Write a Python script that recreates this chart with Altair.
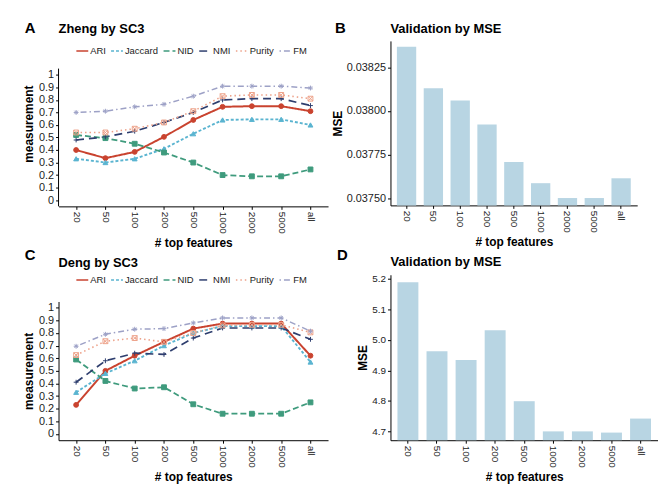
import altair as alt
import pandas as pd

FONT = "Liberation Sans"

features = ["20", "50", "100", "200", "500", "1000", "2000", "5000", "all"]
metrics = ["ARI", "Jaccard", "NID", "NMI", "Purity", "FM"]
colors = ["#C9432F", "#5AB4D0", "#3F9B7D", "#2E3E6E", "#EDA28A", "#9DA1C6"]
dashes = [[1, 0], [3, 2], [6, 3], [8, 5], [1.5, 3], [1.5, 3, 6, 3]]
widths = [2, 1.5, 1.5, 1.6, 1.5, 1.5]
PLUS = "M-1,0L1,0M0,-1L0,1"
BOXX = "M-1,-1L1,-1M1,-1L1,1M1,1L-1,1M-1,1L-1,-1M-1,-1L1,1M-1,1L1,-1"
AST = "M-1,0L1,0M0,-1L0,1M-0.7,-0.7L0.7,0.7M-0.7,0.7L0.7,-0.7"
shapes = ["circle", "triangle-up", "square", PLUS, BOXX, AST]

# Zheng by SC3
zheng_ari = [0.40, 0.335, 0.385, 0.505, 0.64, 0.745, 0.75, 0.75, 0.71]
zheng_jaccard = [0.33, 0.30, 0.33, 0.41, 0.53, 0.64, 0.645, 0.645, 0.60]
zheng_nid = [0.52, 0.495, 0.45, 0.38, 0.30, 0.20, 0.19, 0.19, 0.245]
zheng_nmi = [0.48, 0.505, 0.55, 0.62, 0.70, 0.80, 0.81, 0.81, 0.755]
zheng_purity = [0.54, 0.54, 0.57, 0.62, 0.71, 0.83, 0.84, 0.84, 0.81]
zheng_fm = [0.70, 0.71, 0.745, 0.765, 0.83, 0.91, 0.91, 0.91, 0.895]

# Deng by SC3
deng_ari = [0.23, 0.50, 0.62, 0.73, 0.835, 0.875, 0.875, 0.875, 0.62]
deng_jaccard = [0.33, 0.48, 0.58, 0.70, 0.80, 0.855, 0.855, 0.855, 0.57]
deng_nid = [0.59, 0.42, 0.36, 0.37, 0.235, 0.16, 0.16, 0.16, 0.25]
deng_nmi = [0.41, 0.58, 0.64, 0.63, 0.76, 0.84, 0.84, 0.84, 0.75]
deng_purity = [0.625, 0.735, 0.76, 0.73, 0.80, 0.86, 0.865, 0.865, 0.805]
deng_fm = [0.695, 0.79, 0.83, 0.835, 0.88, 0.92, 0.92, 0.92, 0.815]

# Validation by MSE
mse_zheng = [0.038368, 0.03813, 0.03806, 0.037923, 0.037708, 0.037587, 0.037502, 0.037502, 0.037615]
mse_deng = [5.189, 4.963, 4.934, 5.032, 4.799, 4.700, 4.700, 4.696, 4.742]

measure_ticks = [0, 0.1, 0.2, 0.3, 0.4, 0.5, 0.6, 0.7, 0.8, 0.9, 1]
measure_axis_span = [-0.05, 1.05]
mse_zheng_ticks = [0.0375, 0.03775, 0.038, 0.03825]
mse_deng_ticks = [4.7, 4.8, 4.9, 5.0, 5.1, 5.2]


def long_df(series):
    rows = []
    for m, vals in zip(metrics, series):
        for i, (f, v) in enumerate(zip(features, vals)):
            rows.append({"features": f, "metric": m, "value": v, "idx": i})
    return pd.DataFrame(rows)


def text_layer(text, dx, dy, size, opacity=1):
    return alt.Chart(pd.DataFrame({"t": [text]})).mark_text(
        align="left", baseline="alphabetic", fontSize=size, fontWeight="bold",
        font=FONT, color="black", opacity=opacity
    ).encode(x=alt.value(dx), y=alt.value(dy), text="t:N")


def x_axis():
    return alt.Axis(title="# top features", labelAngle=90, titlePadding=4, labelFontSize=10)


def legend_def(legend_y):
    return alt.Legend(orient="none", legendX=17, legendY=legend_y,
                      direction="horizontal", columns=6, title=None,
                      symbolType="stroke", symbolSize=144,
                      symbolStrokeWidth=1.5, labelFontSize=9.5,
                      labelFont=FONT, labelColor="#222",
                      labelOffset=1, columnPadding=2)


def line_panel(df, letter, title, letter_y, title_y, legend_y, height, ydomain, own_axis_line,
               spacer_y=None):
    x = alt.X("features:N", sort=features,
              scale=alt.Scale(type="point", padding=0.6), axis=x_axis())
    y = alt.Y("value:Q", scale=alt.Scale(domain=ydomain, nice=False, zero=False),
              axis=alt.Axis(values=measure_ticks, format="~g", title="measurement",
                            titlePadding=3, domain=not own_axis_line))
    lines = alt.Chart(df).mark_line().encode(
        x=x, y=y, order=alt.Order("idx:Q"),
        color=alt.Color("metric:N", scale=alt.Scale(domain=metrics, range=colors),
                        legend=legend_def(legend_y)),
        strokeDash=alt.StrokeDash("metric:N", scale=alt.Scale(domain=metrics, range=dashes),
                                  legend=legend_def(legend_y)),
        strokeWidth=alt.StrokeWidth("metric:N", scale=alt.Scale(domain=metrics, range=widths),
                                    legend=None),
    )
    pts = alt.Chart(df).mark_point(filled=True, size=24, opacity=1, strokeWidth=1).encode(
        x=x, y=y,
        fill=alt.Fill("metric:N", scale=alt.Scale(domain=metrics, range=colors), legend=None),
        stroke=alt.Stroke("metric:N", scale=alt.Scale(domain=metrics, range=colors), legend=None),
        shape=alt.Shape("metric:N", scale=alt.Scale(domain=metrics, range=shapes), legend=None),
    )
    layers = [lines, pts]
    if own_axis_line:
        span = pd.DataFrame({"value": [measure_axis_span[0]], "value2": [measure_axis_span[1]]})
        layers.append(alt.Chart(span).mark_rule(color="black", strokeWidth=1).encode(
            x=alt.value(0), y=y, y2="value2:Q"))
    layers += [text_layer(letter, -34, letter_y, 15), text_layer(title, 0, title_y, 13)]
    if spacer_y is not None:
        layers.append(text_layer(letter, -34, spacer_y, 15, opacity=0))
    return alt.layer(*layers).properties(width=272, height=height)


def bar_panel(vals, letter, title, letter_dx, letter_y, title_y, domain, ticks, fmt,
              width, height, ylabel_size):
    df = pd.DataFrame({"features": features, "mse": vals})
    x = alt.X("features:N", sort=features,
              scale=alt.Scale(paddingInner=0.28, paddingOuter=0.24), axis=x_axis())
    y = alt.Y("mse:Q", stack=None, scale=alt.Scale(domain=domain, nice=False, zero=False),
              axis=alt.Axis(values=ticks, format=fmt, title="MSE", titlePadding=2,
                            labelFontSize=ylabel_size))
    bars = alt.Chart(df).mark_bar(color="#B8D5E3").encode(
        x=x, y=y, y2=alt.datum(domain[0]))
    return alt.layer(
        bars,
        text_layer(letter, letter_dx, letter_y, 15),
        text_layer(title, 0, title_y, 13),
    ).properties(width=width, height=height)


A = line_panel(long_df([zheng_ari, zheng_jaccard, zheng_nid, zheng_nmi, zheng_purity, zheng_fm]),
               "A", "Zheng by SC3", -8, -8, 3, 167, [-0.05, 1.2714], True, spacer_y=-36)
C = line_panel(long_df([deng_ari, deng_jaccard, deng_nid, deng_nmi, deng_purity, deng_fm]),
               "C", "Deng by SC3", -42, -35, -29, 140, [-0.05, 1.05], False)
B = bar_panel(mse_zheng, "B", "Validation by MSE", -56, -8, -8,
              [0.03746, 0.038401], mse_zheng_ticks, ".5f", 249, 166, 11)
D = bar_panel(mse_deng, "D", "Validation by MSE", -54, -15, -9,
              [4.671, 5.214], mse_deng_ticks, ".1f", 270, 167, 10)

left = alt.vconcat(A, C, spacing=-1).resolve_scale(color="independent", strokeDash="independent")
right = alt.vconcat(B, D, spacing=0)

chart = alt.hconcat(left, right, spacing=3).resolve_scale(
    color="independent", strokeDash="independent"
).properties(
    padding={"left": 14, "top": -17, "right": 0, "bottom": 0}
).configure_view(stroke=None).configure_axis(
    grid=False, domainColor="black", tickColor="black", labelColor="#222",
    labelFont=FONT, titleFont=FONT, labelFontSize=11, titleFontSize=12,
    titleFontWeight="bold", titleColor="black", tickSize=3, labelPadding=2, domainWidth=1
)

chart.save("out.html", embed_options={"renderer": "svg", "actions": False})
